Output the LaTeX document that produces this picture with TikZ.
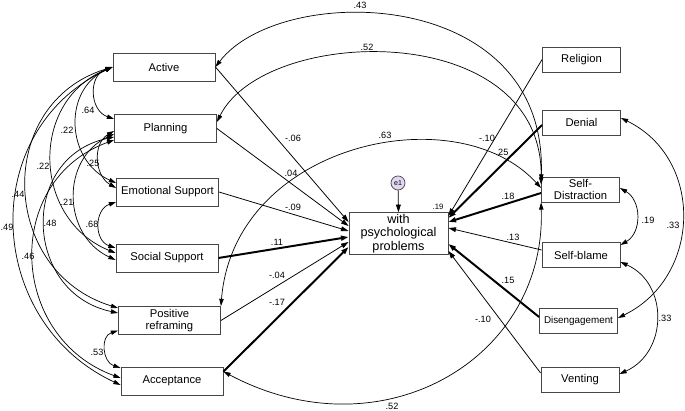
\documentclass[tikz,border=0pt]{standalone}
\usepackage{fontspec}
\setmainfont{Liberation Sans}
\usetikzlibrary{arrows.meta, calc}
\definecolor{errfill}{RGB}{226,214,242}
\definecolor{boxline}{RGB}{70,70,70}

\begin{document}
\begin{tikzpicture}[
  x=0.025cm, y=0.025cm,
  every node/.style={font=\fontsize{8}{9}\selectfont},
  var/.style={
    draw=boxline, line width=0.6pt, align=center,
    minimum width=2.55cm, minimum height=0.7cm, inner sep=1pt
  },
  rvar/.style={var, minimum width=1.95cm, minimum height=0.625cm},
  err/.style={
    circle, draw=boxline, fill=errfill, line width=0.5pt,
    minimum size=0.35cm, inner sep=0pt, font=\fontsize{5}{5}\selectfont
  },
  arrow/.style={-{Triangle[length=1.9mm, width=1.2mm]}, line width=0.55pt},
  heavy/.style={arrow, line width=1.4pt},
  cov/.style={{Triangle[length=1.8mm, width=1.1mm]}-{Triangle[length=1.8mm, width=1.1mm]}, line width=0.5pt},
  lbl/.style={font=\fontsize{6.5}{7}\selectfont, inner sep=0pt}
]
  \useasboundingbox (0,0) rectangle (685,411);

  % Left column (coping strategies)
  \node[var] (act)  at (164,344)   {Active};
  \node[var] (plan) at (165.5,282.5) {Planning};
  \node[var] (emo)  at (167.5,219) {Emotional Support};
  \node[var] (soc)  at (167,153)   {Social Support};
  \node[var] (posr) at (169.5,90.5) {Positive\\reframing};
  \node[var] (acc)  at (172,30)    {Acceptance};

  % Right column
  \node[rvar] (rel)  at (581.5,351.5) {Religion};
  \node[rvar] (den)  at (581.5,288.5) {Denial};
  \node[rvar] (sdis) at (580.5,221.5) {Self-\\Distraction};
  \node[rvar] (sblm) at (581,156)     {Self-blame};
  \node[rvar, font=\fontsize{7}{8}\selectfont] (dis) at (578.5,90.5) {Disengagement};
  \node[rvar] (vent) at (580,31)      {Venting};

  % Outcome and error term
  \node[var, minimum width=2.475cm, minimum height=1.025cm, font=\fontsize{9}{9.6}\selectfont]
    (prob) at (398.5,177.5) {with\\psychological\\problems};
  \node[err] (e1) at (398,228) {e1};
  \node[lbl, font=\fontsize{5.5}{6}\selectfont] (r2) at (438,204) {.19};
  \draw[arrow] (e1) -- (prob.north);

  % Regression paths, left side
  \draw[arrow] (act.east) -- ($(prob.west)+(0,11.5)$);
  \draw[arrow] (plan.east) -- ($(prob.west)+(0,7.5)$);
  \draw[arrow] (emo.east) -- ($(prob.west)+(0,2.5)$);
  \draw[heavy] (soc.east) -- ($(prob.west)+(0,-3.5)$);
  \draw[arrow] (posr.east) -- ($(prob.west)+(0,-8.5)$);
  \draw[heavy] ($(acc.north east)+(0,-5)$) -- ($(prob.west)+(0,-13.5)$);

  % Regression paths, right side
  \draw[arrow] (rel.west) -- ($(prob.east)+(0,17.5)$);
  \draw[heavy] ($(den.west)+(0,-2.5)$) -- ($(prob.east)+(0,15.5)$);
  \draw[heavy] ($(sdis.west)+(0,-3.5)$) -- ($(prob.east)+(0,11.5)$);
  \draw[arrow] ($(sblm.west)+(0,5)$) -- ($(prob.east)+(0,5.5)$);
  \draw[heavy] ($(dis.west)+(0,3.5)$) -- ($(prob.east)+(0,-10.5)$);
  \draw[arrow] ($(vent.west)+(0,7)$) -- ($(prob.east)+(0,-17.5)$);

  % Path coefficients
  \node[lbl] (bact)  at (293,273) {-.06};
  \node[lbl] (bplan) at (291,238) {.04};
  \node[lbl] (bemo)  at (293,204) {-.09};
  \node[lbl] (bsoc)  at (277,169) {.11};
  \node[lbl] (bpos)  at (277,136) {-.04};
  \node[lbl] (bacc)  at (277,109) {-.17};
  \node[lbl] (brel)  at (487,273) {-.10};
  \node[lbl] (bden)  at (502,259) {.25};
  \node[lbl] (bsdis) at (508,215) {.18};
  \node[lbl] (bsblm) at (513,174) {.13};
  \node[lbl] (bdis)  at (508,131) {.15};
  \node[lbl] (bvent) at (483,92)  {-.10};

  % Covariances among left predictors
  \draw[cov] (act.west) .. controls +(199:26) and +(161:26) .. ($(plan.west)+(0,9.5)$);
  \draw[cov] (act.west) .. controls +(204:55) and +(156:55) .. ($(emo.west)+(0,9)$);
  \draw[cov] (act.west) .. controls +(202:90) and +(158:90) .. ($(soc.west)+(0,5)$);
  \draw[cov] (act.west) .. controls +(197:124) and +(163:124) .. ($(posr.west)+(0,12.5)$);
  \draw[cov] (act.west) .. controls +(205:150) and +(155:150) .. ($(acc.west)+(0,-4)$);
  \draw[cov] ($(plan.west)+(0,-2.5)$) .. controls +(210:25) and +(150:25) .. ($(emo.west)+(0,4)$);
  \draw[cov] ($(plan.west)+(0,-5.5)$) .. controls +(205:59) and +(155:59) .. ($(soc.west)+(0,-2)$);
  \draw[cov] ($(plan.west)+(0,-8.5)$) .. controls +(192:97) and +(168:97) .. ($(posr.west)+(0,7.5)$);
  \draw[cov] ($(plan.west)+(0,-11.5)$) .. controls +(200:119) and +(160:119) .. ($(acc.west)+(0,3)$);
  \draw[cov] ($(emo.west)+(0,-10)$) .. controls +(199:23) and +(161:23) .. ($(soc.west)+(0,10)$);
  \draw[cov] ($(posr.west)+(0,-10)$) .. controls +(198:19) and +(162:19) .. ($(acc.west)+(0,13)$);

  \node[lbl] (cap)  at (88,301)  {.64};
  \node[lbl] (cae)  at (67,281)  {.22};
  \node[lbl] (cpe)  at (93,248)  {.25};
  \node[lbl] (cas)  at (43,245)  {.22};
  \node[lbl] (car)  at (18,217)  {.44};
  \node[lbl] (cps)  at (67,209)  {.21};
  \node[lbl] (ces)  at (92,187)  {.68};
  \node[lbl] (cpr)  at (50,188)  {.48};
  \node[lbl] (cac)  at (7,184)   {.49};
  \node[lbl] (cpc)  at (28,155)  {.46};
  \node[lbl] (crc)  at (97,59)   {.53};

  % Covariances across the picture
  \draw[cov] (act.east) .. controls +(52.6:107) and +(88:197) .. ($(sdis.north west)+(0,-5)$);
  \draw[cov] ($(plan.east)+(0,6.5)$) .. controls +(63.7:108) and +(89:167) .. ($(sdis.north west)+(0,-8)$);
  \draw[cov] (posr.north east) .. controls +(85.4:163) and +(132.4:126) .. ($(sdis.west)+(0,1.5)$);
  \draw[cov] (sdis.south west) .. controls +(271.8:158) and +(332:178) .. ($(acc.north east)+(0,-5)$);

  \node[lbl] (cas1) at (360,406) {.43};
  \node[lbl] (cps1) at (367,364) {.52};
  \node[lbl] (crs1) at (385,276) {.63};
  \node[lbl] (ccs1) at (392,5)   {.52};

  % Covariances among right predictors
  \draw[cov] ($(sdis.east)+(0,1.5)$) .. controls +(330:25) and +(30:25) .. ($(sblm.east)+(0,10)$);
  \draw[cov] ($(den.east)+(0,4.5)$) .. controls +(334:93) and +(26:93) .. ($(dis.east)+(0,2.5)$);
  \draw[cov] ($(sblm.east)+(0,-7)$) .. controls +(336:53) and +(24:53) .. ($(vent.east)+(0,6)$);

  \node[lbl] (csb) at (648,191) {.19};
  \node[lbl] (cdd) at (673,186) {.33};
  \node[lbl] (cbv) at (665,93)  {.33};
\end{tikzpicture}
\end{document}
